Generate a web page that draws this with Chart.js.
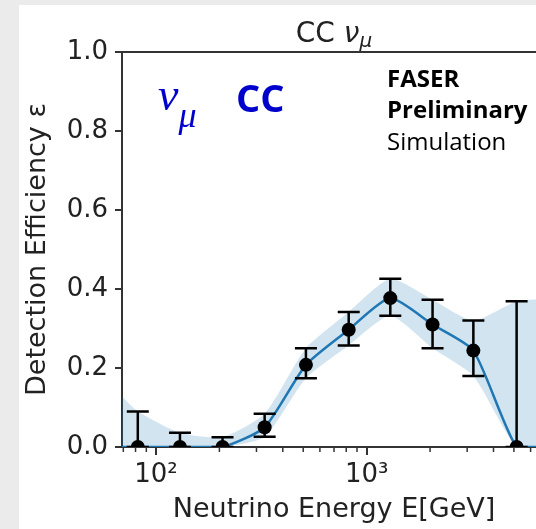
<!DOCTYPE html>
<html>
<head>
<meta charset="utf-8">
<script src="https://cdn.jsdelivr.net/npm/chart.js@4.4.1/dist/chart.umd.min.js"></script>
<style>
  html, body { margin: 0; padding: 0; width: 536px; height: 529px; overflow: hidden; background: #ebebeb; }
  #panel { position: absolute; left: 19px; top: 5px; width: 560px; height: 540px; background: #fff; }
  #chart { position: absolute; left: 0; top: 0; }
</style>
</head>
<body>
<div id="panel"></div>
<canvas id="chart" width="560" height="529"></canvas>
<script>
// bin centres [GeV] and efficiency with error bounds
const energies = [82, 130, 207, 328, 515, 822, 1295, 2055, 3210, 5150];
const efficiency = [0, 0, 0, 0.05, 0.208, 0.297, 0.377, 0.31, 0.244, 0];
const errHigh = [0.09, 0.036, 0.025, 0.084, 0.25, 0.342, 0.426, 0.373, 0.32, 0.369];
const errLow = [0, 0, 0, 0.026, 0.174, 0.257, 0.332, 0.25, 0.18, 0];

// band and curve keep going out to the frame edges
const edgeEnergy = [69, 7100];
const edgeHigh = [0.128, 0.375];
const edgeLow = [0, 0];
const edgeCurve = [0, 0];

const yTicks = [0, 0.2, 0.4, 0.6, 0.8, 1.0];
const xMajorTicks = [100, 1000];
const xMinorTicks = [70, 80, 90, 200, 300, 400, 500, 600, 700, 800, 900, 2000, 3000, 4000, 5000, 6000, 7000];

const TEXT = '#222';
const FONT = '"DejaVu Sans"';

const bandX = [edgeEnergy[0], ...energies, edgeEnergy[1]];
const bandHigh = [edgeHigh[0], ...errHigh, edgeHigh[1]];
const bandLow = [edgeLow[0], ...errLow, edgeLow[1]];
const curve = [edgeCurve[0], ...efficiency, edgeCurve[1]];

const toPts = (xs, ys) => xs.map((x, i) => ({ x: x, y: ys[i] }));

const extras = {
  id: 'extras',
  beforeDatasetDraw(chart, args) {
    if (args.index !== 3) return;
    // error bars under the markers
    const { ctx, chartArea, scales: { x, y } } = chart;
    ctx.save();
    ctx.beginPath();
    ctx.rect(chartArea.left, chartArea.top, chartArea.width, chartArea.height);
    ctx.clip();
    ctx.strokeStyle = '#000';
    ctx.lineWidth = 2.5;
    energies.forEach((e, i) => {
      const px = x.getPixelForValue(e);
      const yh = y.getPixelForValue(errHigh[i]);
      const yl = y.getPixelForValue(errLow[i]);
      ctx.beginPath();
      ctx.moveTo(px, yl); ctx.lineTo(px, yh);
      ctx.moveTo(px - 11, yh); ctx.lineTo(px + 11, yh);
      ctx.moveTo(px - 11, yl); ctx.lineTo(px + 11, yl);
      ctx.stroke();
    });
    ctx.restore();
  },
  afterDraw(chart) {
    const { ctx, chartArea: a, scales: { x } } = chart;
    ctx.save();
    // top and right spines
    ctx.strokeStyle = '#333';
    ctx.lineWidth = 2;
    ctx.beginPath();
    ctx.moveTo(a.left, a.top); ctx.lineTo(a.right, a.top); ctx.lineTo(a.right, a.bottom);
    ctx.stroke();
    // minor log ticks
    ctx.lineWidth = 1.5;
    xMinorTicks.forEach(v => {
      const px = x.getPixelForValue(v);
      ctx.beginPath();
      ctx.moveTo(px, a.bottom); ctx.lineTo(px, a.bottom + 5);
      ctx.stroke();
    });

    // title: CC nu_mu
    ctx.fillStyle = TEXT;
    ctx.textBaseline = 'alphabetic';
    const f1 = '28px ' + FONT, f2 = 'italic 28px ' + FONT, f3 = 'italic 20px ' + FONT;
    ctx.font = f1; const w1 = ctx.measureText('CC ').width;
    ctx.font = f2; const w2 = ctx.measureText('ν').width;
    ctx.font = f3; const w3 = ctx.measureText('μ').width;
    let tx = 334 - (w1 + w2 + w3) / 2;
    ctx.font = f1; ctx.fillText('CC ', tx, 42); tx += w1;
    ctx.font = f2; ctx.fillText('ν', tx, 42); tx += w2;
    ctx.font = f3; ctx.fillText('μ', tx, 47);

    // blue nu_mu CC label
    ctx.fillStyle = '#0000cc';
    ctx.font = 'italic 46px "Liberation Serif"';
    ctx.fillText('ν', 158, 110);
    const nw = ctx.measureText('ν').width;
    ctx.font = 'italic 36px "Liberation Serif"';
    ctx.fillText('μ', 158 + nw, 127);
    ctx.font = 'bold 38px "Open Sans"';
    ctx.fillText('CC', 236, 112);

    // FASER block
    ctx.fillStyle = '#000';
    ctx.font = 'bold 24px "Open Sans"';
    ctx.fillText('FASER', 387, 87);
    ctx.fillText('Preliminary', 387, 118);
    ctx.font = '24px "Open Sans"';
    ctx.fillText('Simulation', 387, 150);
    ctx.restore();
  }
};

new Chart(document.getElementById('chart'), {
  type: 'line',
  data: {
    datasets: [
      {
        label: 'band high',
        data: toPts(bandX, bandHigh),
        fill: '+1',
        backgroundColor: 'rgba(31, 119, 180, 0.2)',
        borderWidth: 0,
        pointRadius: 0,
        tension: 0.2,
        order: 3
      },
      {
        label: 'band low',
        data: toPts(bandX, bandLow),
        fill: false,
        borderWidth: 0,
        pointRadius: 0,
        tension: 0.2,
        order: 3
      },
      {
        label: 'efficiency curve',
        data: toPts(bandX, curve),
        borderColor: '#1f77b4',
        borderWidth: 2.5,
        pointRadius: 0,
        fill: false,
        tension: 0.2,
        order: 2
      },
      {
        label: 'efficiency',
        data: toPts(energies, efficiency),
        showLine: false,
        pointRadius: 7,
        pointBackgroundColor: '#000',
        pointBorderColor: '#000',
        pointBorderWidth: 0,
        clip: 0,
        order: 1
      }
    ]
  },
  options: {
    responsive: false,
    animation: false,
    devicePixelRatio: 1,
    layout: { padding: { top: 52, right: 14, left: 0, bottom: 0 } },
    plugins: { legend: { display: false }, tooltip: { enabled: false } },
    scales: {
      x: {
        type: 'logarithmic',
        min: 69,
        max: 7100,
        afterBuildTicks: s => { s.ticks = xMajorTicks.map(v => ({ value: v, major: true })); },
        afterFit: s => { s.height = 82; },
        ticks: {
          autoSkip: false,
          maxRotation: 0,
          padding: 5,
          color: TEXT,
          font: { family: FONT, size: 26 },
          callback: v => (v === 100 ? '10²' : v === 1000 ? '10³' : '')
        },
        grid: { drawOnChartArea: false, tickLength: 8, color: '#333', lineWidth: 2 },
        border: { display: true, color: '#333', width: 2 },
        title: {
          display: true,
          text: 'Neutrino Energy E[GeV]',
          color: TEXT,
          font: { family: FONT, size: 27, lineHeight: 1.2 },
          padding: { bottom: 3 }
        }
      },
      y: {
        min: 0,
        max: 1,
        afterBuildTicks: s => { s.ticks = yTicks.map(v => ({ value: v })); },
        afterFit: s => { s.width = 122; },
        ticks: {
          padding: 7,
          color: TEXT,
          font: { family: FONT, size: 26 },
          callback: v => v.toFixed(1)
        },
        grid: { drawOnChartArea: false, tickLength: 7, color: '#333', lineWidth: 2 },
        border: { display: true, color: '#333', width: 2 },
        title: {
          display: true,
          text: 'Detection Efficiency ε',
          color: TEXT,
          font: { family: FONT, size: 27, lineHeight: 1.2 },
          padding: { top: 22 }
        }
      }
    }
  },
  plugins: [extras]
});
</script>
</body>
</html>
